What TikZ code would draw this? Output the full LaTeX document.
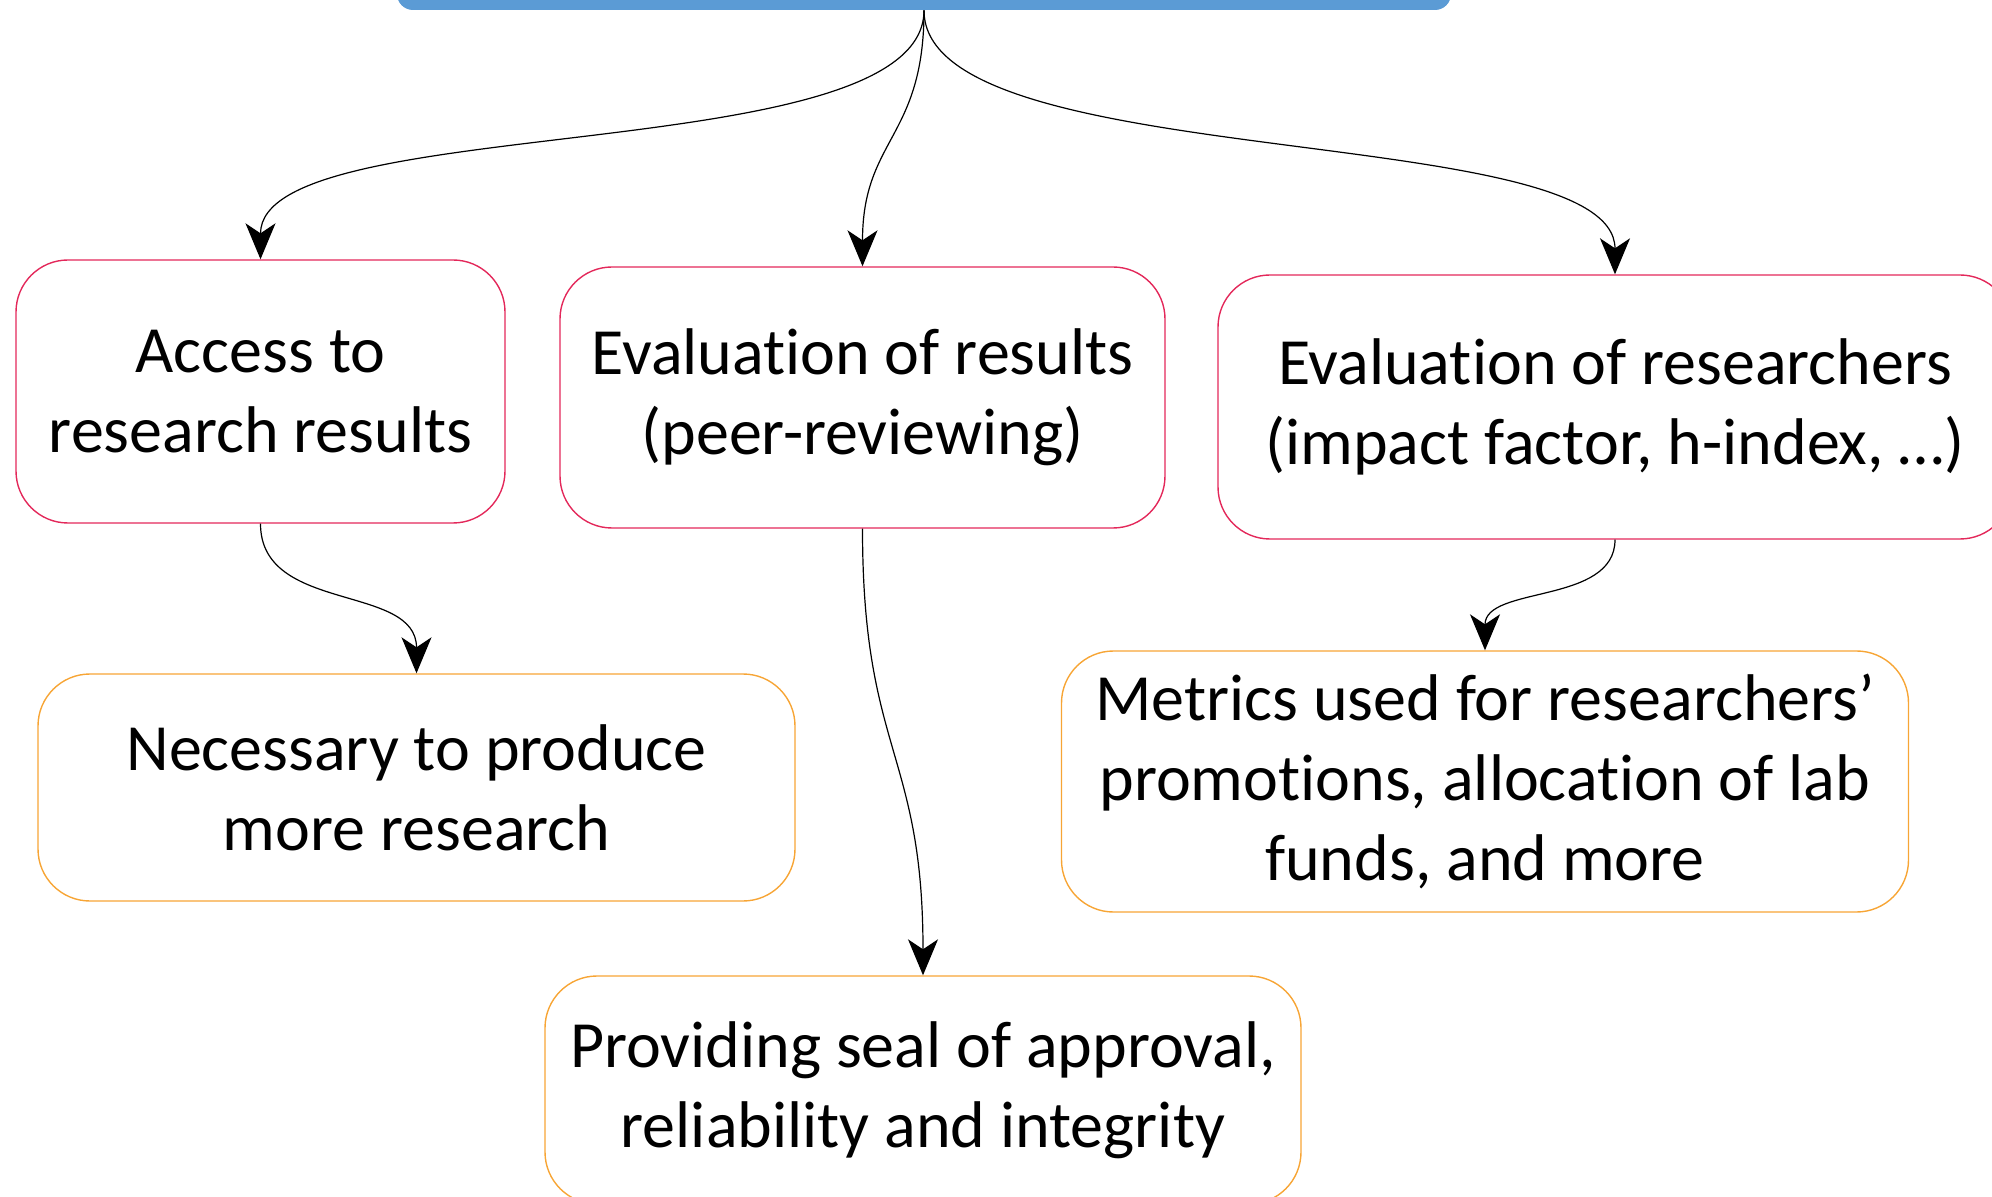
\documentclass[tikz,border=0pt]{standalone}
\usepackage{fontspec}
\setmainfont{Carlito}[Ligatures=CommonOff, RawFeature={-liga;-clig;-calt;-dlig}]
\usetikzlibrary{arrows.meta}

\definecolor{topblue}{HTML}{5B9BD5}
\definecolor{boxred}{HTML}{E3285A}
\definecolor{boxorange}{HTML}{F7A535}

\begin{document}
\begin{tikzpicture}[x=0.5pt, y=-0.5pt,
    redbox/.style={draw=boxred, line width=0.7pt, rounded corners=26pt, inner sep=0pt,
        align=center, font=\fontsize{33}{40}\selectfont},
    orangebox/.style={redbox, draw=boxorange},
    link/.style={line width=0.6pt, -{Stealth[length=18pt, width=15pt, inset=5pt]}}]
    % Fix the page to the reference frame
    \clip (0,0) rectangle (1992,1197);
    \useasboundingbox (0,0) rectangle (1992,1197);

    % The blue box at the top, mostly out of the frame
    \node[fill=topblue, rounded corners=8pt, minimum width=527pt, minimum height=50pt, inner sep=0pt] (top) at (924,-40) {};

    % First row: what publishing is used for
    \node[redbox, minimum width=244.5pt, minimum height=131.5pt] (access) at (260.5,391.5) {Access to\\research results};
    \node[redbox, minimum width=302.5pt, minimum height=130.5pt] (evalres) at (862.5,397.5) {Evaluation of results\\(peer-reviewing)};
    \node[redbox, minimum width=397pt, minimum height=132pt] (evalpeople) at (1615,407) {Evaluation of researchers\\(impact factor, h-index, \dots)};

    % Second row: what follows from it
    \node[orangebox, minimum width=378.5pt, minimum height=113.5pt] (produce) at (416.5,787.5) {Necessary to produce\\more research};
    \node[orangebox, minimum width=423.5pt, minimum height=130.5pt] (metrics) at (1485,781.5) {Metrics used for researchers’\\promotions, allocation of lab\\funds, and more};
    \node[orangebox, minimum width=378pt, minimum height=114pt] (seal) at (923,1090) {Providing seal of approval,\\reliability and integrity};

    % Curved links
    \draw[link] (top.south) .. controls +(0,160) and +(0,-150) .. (access.north);
    \draw[link] (top.south) .. controls +(0,128) and +(0,-128) .. (evalres.north);
    \draw[link] (top.south) .. controls +(0,165) and +(0,-155) .. (evalpeople.north);
    \draw[link] (access.south) .. controls +(0,90) and +(0,-90) .. (produce.north);
    \draw[link] (evalres.south) .. controls +(0,224) and +(0,-224) .. (seal.north);
    \draw[link] (evalpeople.south) .. controls +(0,65) and +(0,-65) .. (metrics.north);
\end{tikzpicture}
\end{document}
